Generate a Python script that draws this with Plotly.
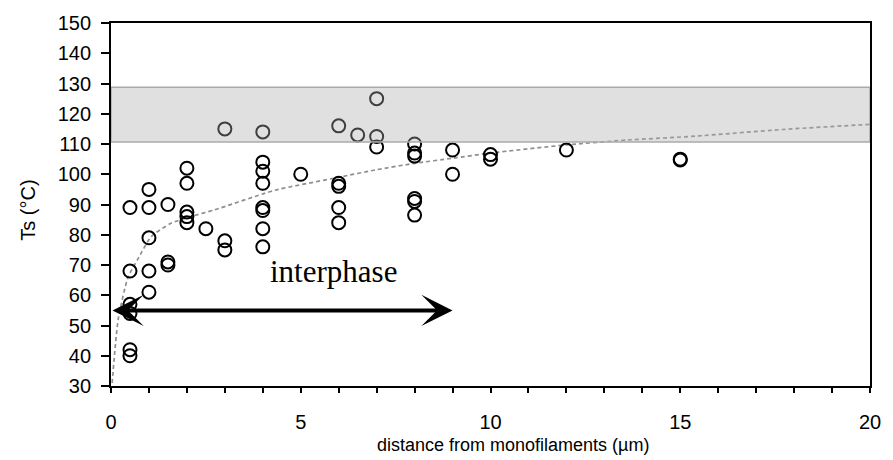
import plotly.graph_objects as go

# Measured data (distance in µm, Ts in °C)
dist = [0.5, 0.5, 0.5, 0.5, 0.5, 0.5,
        1, 1, 1, 1, 1,
        1.5, 1.5, 1.5,
        2, 2, 2, 2, 2,
        2.5,
        3, 3, 3,
        4, 4, 4, 4, 4, 4, 4, 4,
        5,
        6, 6, 6, 6, 6,
        6.5,
        7, 7, 7,
        8, 8, 8, 8, 8, 8,
        9, 9,
        10, 10,
        12,
        15, 15]
ts = [89, 68, 57, 54, 42, 40,
      95, 89, 79, 68, 61,
      90, 71, 70,
      102, 97, 87.5, 86, 84,
      82,
      115, 78, 75,
      114, 104, 101, 97, 89, 88, 82, 76,
      100,
      116, 97, 96, 89, 84,
      113,
      125, 112.5, 109,
      110, 107, 106, 92, 91, 86.5,
      108, 100,
      106.5, 105,
      108,
      105, 104.7]

# Trend curve
curve_x = [0.03, 0.19, 0.45, 0.71, 1.06, 1.58, 2.1, 2.72, 4, 4.41, 6, 7, 8, 9, 10, 12, 13.6, 15.4, 17.7, 20]
curve_y = [31, 52, 66, 72, 79.4, 83.8, 86, 88.2, 93.5, 95.0, 99, 101.5, 103.6, 105.3, 107, 109.7, 111.3, 112.6, 114.8, 116.5]

# Band (bulk Ts range) and interphase extent
band_low, band_high = 110.7, 128.8
interphase_start, interphase_end, interphase_y = 0, 9, 55

fig = go.Figure()
fig.add_trace(go.Scatter(x=curve_x, y=curve_y, mode="lines",
                         line=dict(color="#8f8f8f", width=1.7, dash="4px,3px", shape="spline", smoothing=0.6),
                         hoverinfo="skip", showlegend=False))
fig.add_trace(go.Scatter(x=dist, y=ts, mode="markers",
                         marker=dict(symbol="circle-open", size=13, color="black", line=dict(width=2, color="black")),
                         showlegend=False))

# band fill (semi transparent, above data) and band border
fig.add_shape(type="rect", xref="x", yref="y", x0=0, x1=20, y0=band_low, y1=band_high,
              fillcolor="rgb(172,172,172)", opacity=0.37, line=dict(width=0), layer="above")
fig.add_shape(type="rect", xref="x", yref="y", x0=0, x1=20, y0=band_low, y1=band_high,
              fillcolor="rgba(0,0,0,0)", line=dict(color="#aaaaaa", width=1.5), layer="above")

# double-headed arrow
fig.add_annotation(x=interphase_end, y=interphase_y, ax=interphase_start, ay=interphase_y,
                   xref="x", yref="y", axref="x", ayref="y", text="", showarrow=True,
                   arrowhead=3, startarrowhead=3, arrowside="end+start",
                   arrowwidth=4, arrowsize=1.3, startarrowsize=1.3, arrowcolor="black")
fig.add_annotation(x=5.87, y=68, xref="x", yref="y", text="interphase", showarrow=False,
                   font=dict(family="Liberation Serif", size=31, color="black"))

# axis titles
fig.add_annotation(x=0.53, y=-0.163, xref="paper", yref="paper", text="distance from monofilaments (µm)",
                   showarrow=False, yanchor="middle", xanchor="center",
                   font=dict(family="Liberation Sans", size=18, color="black"))
fig.add_annotation(x=-0.1097, y=0.485, xref="paper", yref="paper", text="Ts (°C)",
                   showarrow=False, textangle=-90, xanchor="center", yanchor="middle",
                   font=dict(family="Liberation Sans", size=20, color="black"))

fig.update_xaxes(range=[0, 20], dtick=5, tick0=0, ticks="outside", ticklen=5, tickwidth=1.5, tickcolor="black",
                 showline=True, linecolor="black", linewidth=1.8, mirror=True, showgrid=False, zeroline=False,
                 ticklabelstandoff=12,
                 minor=dict(dtick=1, ticks="outside", ticklen=5, tickwidth=1.5, tickcolor="black", showgrid=False),
                 tickfont=dict(family="Liberation Sans", size=20, color="black"))
fig.update_yaxes(range=[30, 150], dtick=10, tick0=30, ticks="outside", ticklen=8, tickwidth=1.5, tickcolor="black",
                 showline=True, linecolor="black", linewidth=1.8, mirror=True, showgrid=False, zeroline=False,
                 ticklabelstandoff=6,
                 tickfont=dict(family="Liberation Sans", size=20, color="black"))

fig.update_layout(width=893, height=460, margin=dict(l=111, r=16, t=23, b=74),
                  paper_bgcolor="white", plot_bgcolor="white")

fig.write_html("out.html")
